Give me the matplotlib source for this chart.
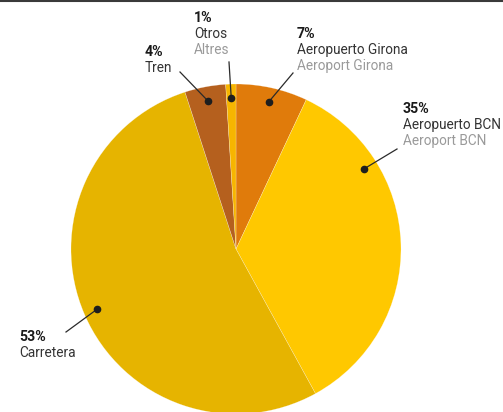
import numpy as np
import matplotlib.pyplot as plt

plt.rcParams['font.family'] = ['Roboto', 'DejaVu Sans']

# datos
labels_es = ["Aeropuerto Girona", "Aeropuerto BCN", "Carretera", "Tren", "Otros"]
labels_ca = ["Aeroport Girona", "Aeroport BCN", "", "", "Altres"]
values = [7, 35, 53, 4, 1]
colors = ["#E07B0B", "#FFC800", "#E6B400", "#B5601E", "#F7B500"]

# layout (pixel coords, y from top): text anchor, leader line end, dot position along wedge
text_xy = [(297, 37.5), (403, 113), (19, 341), (145, 55.5), (194, 22)]
line_end = [(293, 73), (397, 149), (66, 332), (180, 72), (229, 62)]
dot_frac = [0.5, 0.74, 0.5, 0.5, 0.5]

W, H = 503, 412
fig = plt.figure(figsize=(W / 100, H / 100), dpi=100)
ax = fig.add_axes([0, 0, 1, 1])

cx, cy, R = 236, H - 249, 165
wedges, _ = ax.pie(values, colors=colors, startangle=90, counterclock=False,
                   center=(cx, cy), radius=R,
                   wedgeprops=dict(edgecolor="#ffffff80", linewidth=0.3))
ax.set_xlim(0, W)
ax.set_ylim(0, H)
ax.set_aspect("equal")
ax.axis("off")

fs = 9.8
for w, v, es, ca, (tx, ty), (lx, ly), f in zip(wedges, values, labels_es, labels_ca,
                                               text_xy, line_end, dot_frac):
    ang = np.deg2rad(w.theta1 + f * (w.theta2 - w.theta1))
    dx = cx + 0.915 * R * np.cos(ang)
    dy = cy + 0.915 * R * np.sin(ang)
    ax.plot([dx, lx], [dy, H - ly], color="#2a2a2a", lw=0.9)
    ax.plot(dx, dy, "o", color="#1e1e1e", ms=4.5)
    ax.text(tx, H - ty, "%d%%" % v, fontsize=fs + 0.4, fontweight="bold",
            color="#1a1a1a", va="baseline", ha="left")
    ax.text(tx, H - ty - 16, es, fontsize=fs, color="#333333",
            va="baseline", ha="left")
    if ca:
        ax.text(tx, H - ty - 32, ca, fontsize=fs, color="#9a9a9a",
                va="baseline", ha="left")

# linea superior
ax.plot([0, W], [H - 0.5, H - 0.5], color="#3a3a3a", lw=1.5, clip_on=False)

fig.savefig("out.png", dpi=100)
